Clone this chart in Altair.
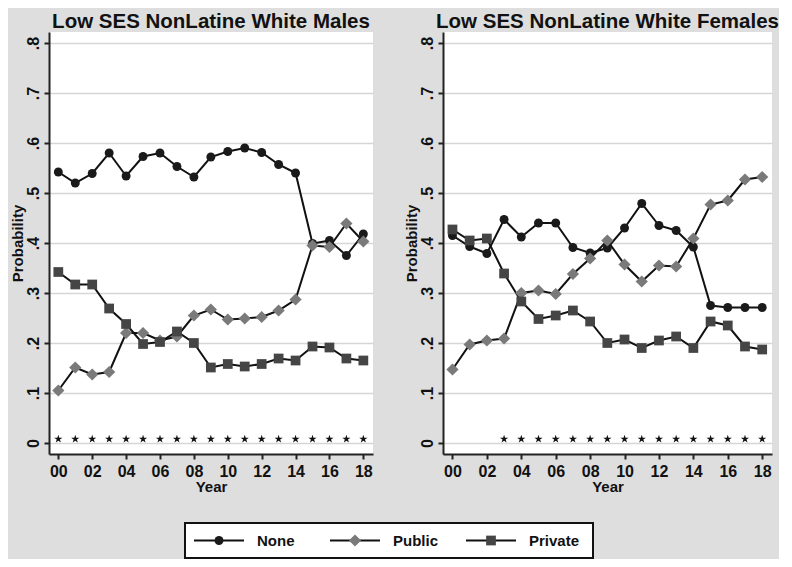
import altair as alt
import pandas as pd

years = list(range(19))
series = ["None", "Public", "Private"]

male_none = [0.542, 0.520, 0.539, 0.580, 0.534, 0.573, 0.580, 0.553, 0.532, 0.572,
             0.583, 0.590, 0.581, 0.557, 0.540, 0.399, 0.405, 0.375, 0.418]
male_public = [0.105, 0.151, 0.137, 0.142, 0.220, 0.220, 0.205, 0.213, 0.255, 0.267,
               0.247, 0.249, 0.252, 0.265, 0.287, 0.395, 0.392, 0.439, 0.403]
male_private = [0.342, 0.317, 0.317, 0.269, 0.238, 0.198, 0.202, 0.223, 0.200, 0.151,
                0.158, 0.153, 0.158, 0.169, 0.165, 0.193, 0.191, 0.169, 0.165]

female_none = [0.415, 0.393, 0.379, 0.447, 0.412, 0.440, 0.440, 0.391, 0.380, 0.390,
               0.430, 0.479, 0.435, 0.425, 0.392, 0.275, 0.271, 0.271, 0.271]
female_public = [0.147, 0.197, 0.205, 0.209, 0.300, 0.305, 0.298, 0.338, 0.369, 0.405,
                 0.357, 0.323, 0.355, 0.353, 0.409, 0.477, 0.485, 0.527, 0.532]
female_private = [0.427, 0.405, 0.409, 0.339, 0.283, 0.248, 0.255, 0.265, 0.243, 0.200,
                  0.207, 0.190, 0.205, 0.213, 0.190, 0.243, 0.235, 0.193, 0.187]

star_level = 0.008
male_sig_years = list(range(0, 19))
female_sig_years = list(range(3, 19))

x_ticks = list(range(0, 19, 2))
y_ticks = [0, 0.1, 0.2, 0.3, 0.4, 0.5, 0.6, 0.7, 0.8]

FONT = "Liberation Sans"
STAR = "M0,-1L0.2245,-0.309L0.951,-0.309L0.363,0.118L0.588,0.809L0,0.382L-0.588,0.809L-0.363,0.118L-0.951,-0.309L-0.2245,-0.309Z"

shape_scale = alt.Scale(domain=series, range=["circle", "diamond", "square"])
color_scale = alt.Scale(domain=series, range=["#1a1a1a", "#7a7a7a", "#454545"])


def long_df(none, public, private):
    rows = []
    for s, vals in zip(series, [none, public, private]):
        for yr, v in zip(years, vals):
            rows.append({"year": yr, "series": s, "prob": v})
    return pd.DataFrame(rows)


def panel(title, df, sig_years, width):
    xenc = alt.X("year:Q",
                 scale=alt.Scale(domain=[-0.55, 18.57], nice=False, zero=False),
                 axis=alt.Axis(values=x_ticks,
                               labelExpr="datum.value < 10 ? '0' + datum.value : '' + datum.value",
                               title="Year", grid=False, titlePadding=0, labelPadding=4))
    yenc = alt.Y("prob:Q",
                 scale=alt.Scale(domain=[-0.022, 0.822], nice=False, zero=False),
                 axis=alt.Axis(values=y_ticks,
                               labelExpr="datum.value == 0 ? '0' : replace(format(datum.value, '.1f'), '0.', '.')",
                               title="Probability", grid=True, labelAngle=270,
                               labelAlign="center", labelBaseline="bottom",
                               labelPadding=3, titlePadding=0))
    base = alt.Chart(df)
    lines = base.mark_line(color="#111111", strokeWidth=2).encode(
        x=xenc, y=yenc, detail="series:N")
    points = base.mark_point(filled=True, opacity=1).encode(
        x=xenc, y=yenc,
        shape=alt.Shape("series:N", scale=shape_scale, legend=None),
        color=alt.Color("series:N", scale=color_scale, legend=None),
        size=alt.Size("series:N",
                      scale=alt.Scale(type="ordinal", domain=series, range=[80, 150, 95]),
                      legend=None),
    )
    star_df = pd.DataFrame({"year": sig_years, "prob": [star_level] * len(sig_years)})
    stars = alt.Chart(star_df).mark_point(shape=STAR, filled=True, color="#111111",
                                          opacity=1, size=75).encode(x=xenc, y=yenc)
    return alt.layer(lines, points, stars).properties(
        width=width, height=422,
        title=alt.TitleParams(title, fontSize=20.5, fontWeight="bold", font=FONT,
                              anchor="middle", offset=0, color="#111111"),
        view=alt.ViewBackground(fill="white", stroke=None),
    )


left = panel("Low SES NonLatine White Males",
             long_df(male_none, male_public, male_private), male_sig_years, 324)
right = panel("Low SES NonLatine White Females",
              long_df(female_none, female_public, female_private), female_sig_years, 329)

leg_df = pd.DataFrame({"idx": [0, 1, 2], "series": series})
lx = alt.X("idx:Q", scale=alt.Scale(domain=[-0.25, 2.75], nice=False, zero=False), axis=None)
leg_line = alt.Chart(leg_df).mark_point(shape="M-1,0L1,0", filled=False, stroke="#111111",
                                        strokeWidth=2, size=2500, opacity=1).encode(x=lx)
leg_marker = alt.Chart(leg_df).mark_point(filled=True, opacity=1).encode(
    x=lx,
    shape=alt.Shape("series:N", scale=shape_scale, legend=None),
    color=alt.Color("series:N", scale=color_scale, legend=None),
    size=alt.Size("series:N",
                  scale=alt.Scale(type="ordinal", domain=series, range=[45, 65, 45]),
                  legend=None),
)
leg_text = alt.Chart(leg_df).mark_text(align="left", dx=38, fontSize=15, fontWeight="bold",
                                       font=FONT, color="#111111").encode(x=lx, text="series:N")
legend = alt.layer(leg_line, leg_marker, leg_text).properties(
    width=408, height=35,
    view=alt.ViewBackground(fill="white", stroke="#111111", strokeWidth=2),
)

spacer = alt.Chart(leg_df).mark_point(opacity=0).properties(
    width=127, height=35, view=alt.ViewBackground(fill=None, stroke=None))

chart = alt.vconcat(
    alt.hconcat(left, right, spacing=31),
    alt.hconcat(spacer, legend, spacing=8),
    spacing=28,
).properties(padding={"left": 2, "top": 3, "right": 0, "bottom": 0},
             background="#dedede").configure_axis(
    labelFont=FONT, titleFont=FONT, labelFontSize=16, titleFontSize=15,
    labelFontWeight="bold", titleFontWeight="bold",
    labelColor="#111111", titleColor="#111111",
    domainColor="#222222", domainWidth=2, tickColor="#222222", tickWidth=2, tickSize=5,
    gridColor="#d6d6d6", gridWidth=1.5,
).configure_view(stroke=None)

chart.save("out.html", embed_options={"renderer": "svg", "actions": False})
